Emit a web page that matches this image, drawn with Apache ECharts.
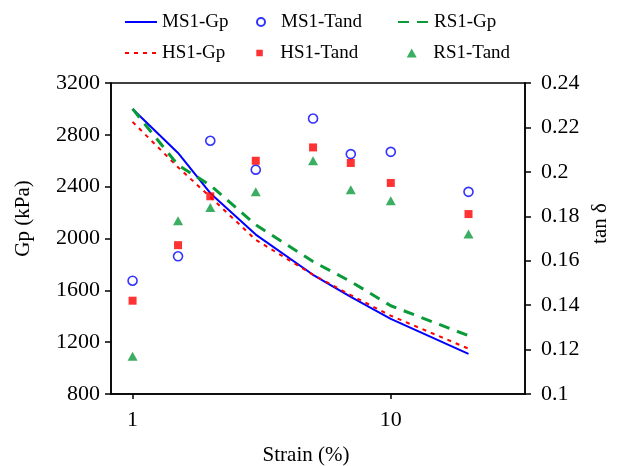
<!DOCTYPE html>
<html>
<head>
<meta charset="utf-8">
<script src="https://cdn.jsdelivr.net/npm/echarts@6/dist/echarts.min.js"></script>
<style>html,body{margin:0;padding:0;background:#fff}#c{width:621px;height:466px}</style>
</head>
<body>
<div id="c"></div>
<script>
var strain = [1, 1.5, 2, 3, 5, 7, 10, 20];
var ms1Gp = [3000, 2660, 2350, 2030, 1720, 1550, 1380, 1110];
var hs1Gp = [2900, 2550, 2320, 1990, 1720, 1563, 1404, 1150];
var rs1Gp = [3000, 2566, 2411, 2105, 1822, 1668, 1481, 1250];
var ms1Tand = [0.151, 0.162, 0.214, 0.201, 0.224, 0.208, 0.209, 0.191];
var hs1Tand = [0.142, 0.167, 0.189, 0.205, 0.211, 0.204, 0.195, 0.181];
var rs1Tand = [0.117, 0.178, 0.184, 0.191, 0.205, 0.192, 0.187, 0.172];
var xTicks = [1, 10];

var FONT = 'Liberation Serif';
function pairs(ys) { return strain.map(function (x, i) { return [x, ys[i]]; }); }
var BLUE = '#0000ff', RED = '#ff0000', GREEN = '#0a9a3a';

function lg(name, left, top, w, h, padLeft, isLine) {
  var o = {
    data: [name], left: left, top: top, padding: 0,
    itemWidth: w, itemHeight: h, itemGap: 0,
    textStyle: { fontFamily: FONT, fontSize: 19, color: '#000', padding: [0, 0, 0, padLeft] },
    selectedMode: false
  };
  if (isLine) o.itemStyle = { opacity: 0 };
  return o;
}
var ROW1 = 12.5, ROW2 = 43.5;

var chart = echarts.init(document.getElementById('c'), null, { renderer: 'canvas' });
chart.setOption({
  animation: false,
  backgroundColor: '#fff',
  legend: [
    lg('MS1-Gp', 124, ROW1, 32, 14, 0, true),
    lg('MS1-Tand', 256, ROW1, 8, 8, 11, false),
    lg('RS1-Gp', 397, ROW1, 31, 14, 0, true),
    lg('HS1-Gp', 124, ROW2, 32, 14, 0, true),
    lg('HS1-Tand', 256.3, ROW2, 6.5, 6.5, 12.5, false),
    lg('RS1-Tand', 406.7, ROW2, 10, 9, 11.6, false)
  ],
  grid: { left: 111, right: 96, top: 83, bottom: 72, show: true, borderColor: '#000', borderWidth: 1.5,
    backgroundColor: 'transparent', containLabel: false, outerBoundsMode: 'none' },
  xAxis: {
    type: 'log', logBase: 10, min: 0.825, max: 33.1,
    name: 'Strain (%)', nameLocation: 'middle', nameGap: 51,
    nameTextStyle: { fontFamily: FONT, fontSize: 21, color: '#000', padding: [0, 24, 0, 0] },
    axisLine: { show: true, lineStyle: { color: '#000', width: 1.5 } },
    axisTick: { show: true, inside: false, length: 5, lineStyle: { color: '#000', width: 1.5 }, customValues: xTicks },
    axisLabel: { fontFamily: FONT, fontSize: 22, color: '#000', margin: 15, customValues: xTicks },
    splitLine: { show: false },
    minorTick: { show: false }
  },
  yAxis: [{
    type: 'value', min: 800, max: 3200, interval: 400, position: 'left',
    name: 'Gp (kPa)', nameLocation: 'middle', nameGap: 77, nameRotate: 90,
    nameTextStyle: { fontFamily: FONT, fontSize: 21, color: '#000', padding: [0, 0, 0, 40] },
    axisLine: { show: true, lineStyle: { color: '#000', width: 1.5 } },
    axisTick: { show: true, inside: false, length: 6, lineStyle: { color: '#000', width: 1.5 } },
    axisLabel: { fontFamily: FONT, fontSize: 22, color: '#000', margin: 11, formatter: function (v) { return String(v); } },
    splitLine: { show: false }
  }, {
    type: 'value', min: 0.1, max: 0.24, interval: 0.02, position: 'right',
    name: 'tan δ', nameLocation: 'middle', nameGap: 63, nameRotate: 90,
    nameTextStyle: { fontFamily: FONT, fontSize: 21, color: '#000', padding: [0, 0, 0, 30] },
    axisLine: { show: true, lineStyle: { color: '#000', width: 1.5 } },
    axisTick: { show: true, inside: false, length: 6, lineStyle: { color: '#000', width: 1.5 } },
    axisLabel: { fontFamily: FONT, fontSize: 22, color: '#000', margin: 16, formatter: function (v) { return String(+v.toFixed(2)); } },
    splitLine: { show: false }
  }],
  series: [
    { name: 'MS1-Gp', type: 'line', yAxisIndex: 0, data: pairs(ms1Gp), symbol: 'none', showSymbol: false,
      lineStyle: { color: BLUE, width: 2 }, itemStyle: { color: BLUE }, z: 2 },
    { name: 'HS1-Gp', type: 'line', yAxisIndex: 0, data: pairs(hs1Gp), symbol: 'none', showSymbol: false,
      lineStyle: { color: RED, width: 2, type: [4, 5] }, itemStyle: { color: RED }, z: 2 },
    { name: 'RS1-Gp', type: 'line', yAxisIndex: 0, data: pairs(rs1Gp), symbol: 'none', showSymbol: false,
      lineStyle: { color: GREEN, width: 3, type: [11, 8] }, itemStyle: { color: GREEN }, z: 2 },
    { name: 'MS1-Tand', type: 'scatter', yAxisIndex: 1, data: pairs(ms1Tand), symbol: 'circle', symbolSize: 9,
      itemStyle: { color: '#fff', borderColor: BLUE, borderWidth: 1.6 }, z: 3 },
    { name: 'HS1-Tand', type: 'scatter', yAxisIndex: 1, data: pairs(hs1Tand), symbol: 'rect', symbolSize: 8,
      itemStyle: { color: RED }, z: 3 },
    { name: 'RS1-Tand', type: 'scatter', yAxisIndex: 1, data: pairs(rs1Tand), symbol: 'triangle', symbolSize: [10, 9],
      itemStyle: { color: GREEN }, z: 3 }
  ]
});
</script>
</body>
</html>
